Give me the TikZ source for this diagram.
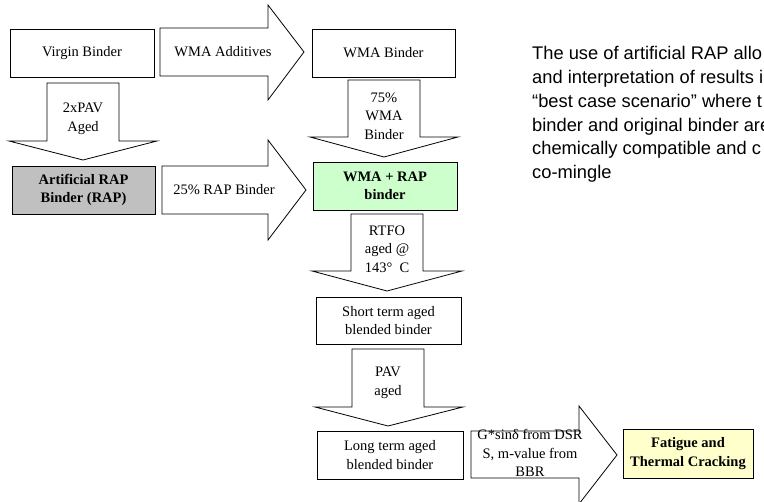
\documentclass[tikz,border=0pt]{standalone}
\usepackage{fontspec}
\setmainfont{Liberation Serif}
\newfontfamily\notefont{Liberation Sans}
\definecolor{rapgray}{HTML}{C0C0C0}
\definecolor{mixgreen}{HTML}{CCFFCC}
\definecolor{outyellow}{HTML}{FFFFCC}
\begin{document}
\begin{tikzpicture}[x=1pt,y=-1pt,
  box/.style={draw, line width=0.8pt, inner sep=0pt, align=center,
    font=\fontsize{14.5}{18.5}\selectfont},
  boldbox/.style={box, font=\bfseries\fontsize{14.5}{18.5}\selectfont},
  blk/.style={draw, line width=0.8pt, fill=white, line join=miter},
  lbl/.style={inner sep=0pt, align=center, font=\fontsize{14.5}{18.5}\selectfont},
  note/.style={inner sep=0pt, anchor=base west, font=\notefont\fontsize{18.3}{23.7}\selectfont},
]
\clip (0,0) rectangle (764,502);
\fill[white] (0,0) rectangle (764,502);

% binder boxes
\node[box, minimum width=144pt, minimum height=48pt] (virgin) at (82,53) {Virgin Binder};
\node[box, minimum width=143pt, minimum height=48pt] (wma) at (383.5,53) {WMA Binder};
\node[boldbox, fill=rapgray, minimum width=143pt, minimum height=48pt] (rap) at (83.5,190) {Artificial RAP\\Binder (RAP)};
\node[boldbox, fill=mixgreen, minimum width=144pt, minimum height=48pt] (mix) at (385,186) {WMA + RAP\\binder};
\node[box, minimum width=145pt, minimum height=47pt] (short) at (388.5,320.5) {Short term aged\\blended binder};
\node[box, minimum width=146pt, minimum height=48pt] (long) at (390,455) {Long term aged\\blended binder};
\node[boldbox, fill=outyellow, minimum width=130pt, minimum height=49pt] (crack) at (688,453.5) {Fatigue and\\Thermal Cracking};

% block arrows pointing right
\draw[blk] (160,28) -- (268,28) -- (268,5) -- (304,52) -- (268,100) -- (268,76) -- (160,76) -- cycle;
\draw[blk] (162,166) -- (268,166) -- (268,140) -- (306,190) -- (268,240) -- (268,214) -- (162,214) -- cycle;
\draw[blk] (471,431) -- (579,431) -- (579,406) -- (617,455) -- (579,504) -- (579,478) -- (471,478) -- cycle;

% block arrows pointing down
\draw[blk] (47,83) -- (119,83) -- (119,141) -- (157,141) -- (83,160) -- (9,141) -- (47,141) -- cycle;
\draw[blk] (348,80) -- (420,80) -- (420,137) -- (458,137) -- (384,157) -- (310,137) -- (348,137) -- cycle;
\draw[blk] (351,214) -- (423,214) -- (423,271) -- (462,271) -- (387,291) -- (312,271) -- (351,271) -- cycle;
\draw[blk] (352,349) -- (424,349) -- (424,407) -- (463,407) -- (388,426) -- (315,407) -- (352,407) -- cycle;

% arrow labels
\node[lbl] (additives) at (223,52) {WMA Additives};
\node[lbl] (rapshare) at (224,190) {25\% RAP Binder};
\node[lbl] (tests) at (530,453) {G*sinδ from DSR\\S, m-value from\\BBR};
\node[lbl] (pav2) at (83,119) {2xPAV\\Aged};
\node[lbl] (wmashare) at (384,116) {75\%\\WMA\\Binder};
\node[lbl] (rtfo) at (387,249) {RTFO\\aged @\\143°\ \ C};
\node[lbl] (pav) at (388,383) {PAV\\aged};

% explanatory note
\node[note] (n1) at (532,60) {The use of artificial RAP allo};
\node[note] (n2) at (532,83.7) {and interpretation of results i};
\node[note] (n3) at (532,107.4) {“best case scenario” where t};
\node[note] (n4) at (532,131.1) {binder and original binder are};
\node[note] (n5) at (532,154.8) {chemically compatible and c};
\node[note] (n6) at (532,178.5) {co-mingle};
\end{tikzpicture}
\end{document}
